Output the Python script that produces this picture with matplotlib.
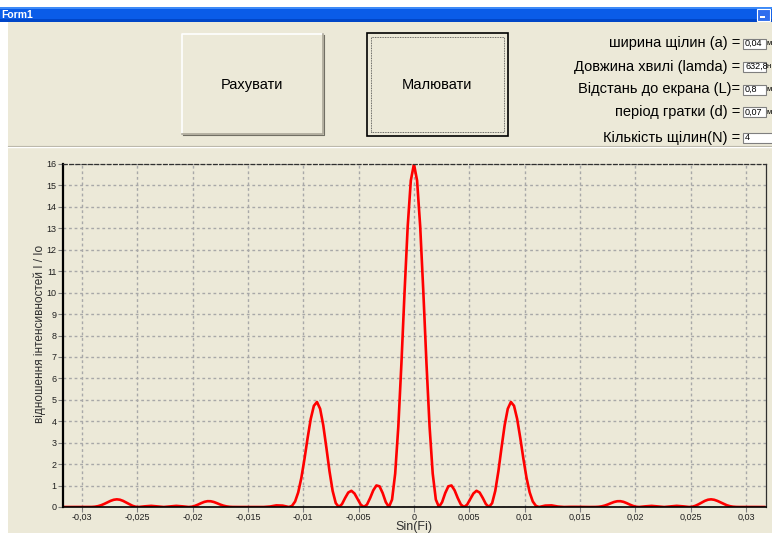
import matplotlib
matplotlib.use("Agg")
import matplotlib.pyplot as plt
from matplotlib.patches import Rectangle
from matplotlib.lines import Line2D

# ============================================================
# DATA
# ============================================================

sin_fi_left = [
    -0.03164, -0.031075, -0.03051, -0.029945,
    -0.02938, -0.029098, -0.028815, -0.028533, -0.02825, -0.027968, -0.027685,
    -0.027403, -0.02712, -0.026838, -0.026555, -0.026273, -0.02599, -0.025708,
    -0.025425, -0.025143, -0.02486,
    -0.024295, -0.02373, -0.023165, -0.0226, -0.022035, -0.02147, -0.020905,
    -0.02034, -0.020058, -0.019775, -0.019493, -0.01921, -0.018928, -0.018645,
    -0.018363, -0.01808, -0.017798, -0.017515, -0.017233, -0.01695, -0.016668,
    -0.016385, -0.016103, -0.01582,
    -0.015255, -0.01469, -0.014125, -0.01356, -0.012995, -0.01243, -0.011865,
    -0.0113, -0.011018, -0.010735, -0.010453, -0.01017, -0.009888, -0.009605,
    -0.009323, -0.00904, -0.008758, -0.008475, -0.008193, -0.00791, -0.007628,
    -0.007345, -0.007063, -0.00678, -0.006498, -0.006215, -0.005933, -0.00565,
    -0.005368, -0.005085, -0.004803, -0.00452, -0.004238, -0.003955, -0.003673,
    -0.00339, -0.003108, -0.002825, -0.002543, -0.00226, -0.001978, -0.001695,
    -0.001413, -0.00113, -0.000848, -0.000565, -0.000283,
]

ratio_left = [
    0.0, 0.0, 0.002, 0.002,
    0.0, 0.003, 0.014, 0.040, 0.084, 0.146, 0.217, 0.286, 0.337, 0.357, 0.339,
    0.285, 0.208, 0.126, 0.057, 0.013, 0.0,
    0.031, 0.053, 0.024, 0.0, 0.024, 0.052, 0.030,
    0.0, 0.013, 0.053, 0.114, 0.182, 0.240, 0.271, 0.268, 0.234, 0.179, 0.118,
    0.066, 0.030, 0.010, 0.002, 0.0, 0.0,
    0.001, 0.007, 0.007, 0.0, 0.022, 0.075, 0.065,
    0.0, 0.051, 0.256, 0.683, 1.359, 2.243, 3.218, 4.107, 4.720,
    4.899, 4.581, 3.816, 2.768, 1.669, 0.752, 0.180, 0.0,
    0.136, 0.423, 0.675, 0.756, 0.629, 0.366, 0.108, 0.0,
    0.116, 0.421, 0.778, 1.005, 0.965, 0.650, 0.225, 0.0,
    0.346, 1.560, 3.741, 6.714, 10.034, 13.082, 15.227,
]

sin_fi_right = [
    0.0, 0.000283, 0.000565, 0.000848, 0.00113, 0.001413, 0.001695, 0.001978,
    0.00226, 0.002543, 0.002825, 0.003108, 0.00339, 0.003673, 0.003955,
    0.004238, 0.00452, 0.004803, 0.005085, 0.005368, 0.00565, 0.005933,
    0.006215, 0.006498, 0.00678, 0.007063, 0.007345, 0.007628, 0.00791,
    0.008193, 0.008475, 0.008758, 0.00904, 0.009323, 0.009605, 0.009888,
    0.01017, 0.010453, 0.010735, 0.011018, 0.0113,
    0.011865, 0.01243, 0.012995, 0.01356, 0.014125, 0.01469, 0.015255,
    0.01582, 0.016103, 0.016385, 0.016668, 0.01695, 0.017233, 0.017515,
    0.017798, 0.01808, 0.018363, 0.018645, 0.018928, 0.01921, 0.019493,
    0.019775, 0.020058, 0.02034,
    0.020905, 0.02147, 0.022035, 0.0226, 0.023165, 0.02373, 0.024295,
    0.02486, 0.025143, 0.025425, 0.025708, 0.02599, 0.026273, 0.026555,
    0.026838, 0.02712, 0.027403, 0.027685, 0.027968, 0.02825, 0.028533,
    0.028815, 0.029098, 0.02938,
    0.029945, 0.03051, 0.031075, 0.03164,
]

ratio_right = [
    16.0, 15.227, 13.082, 10.034, 6.714, 3.741, 1.560, 0.346,
    0.0, 0.225, 0.650, 0.965, 1.005, 0.778, 0.421, 0.116,
    0.0, 0.108, 0.366, 0.629, 0.756, 0.675, 0.423, 0.136,
    0.0, 0.180, 0.752, 1.669, 2.768, 3.816, 4.581, 4.899,
    4.720, 4.107, 3.218, 2.243, 1.359, 0.683, 0.256, 0.051, 0.0,
    0.065, 0.075, 0.022, 0.0, 0.007, 0.007, 0.001,
    0.0, 0.0, 0.002, 0.010, 0.030, 0.066, 0.118, 0.179, 0.234, 0.268, 0.271,
    0.240, 0.182, 0.114, 0.053, 0.013, 0.0,
    0.030, 0.052, 0.024, 0.0, 0.024, 0.053, 0.031,
    0.0, 0.013, 0.057, 0.126, 0.208, 0.285, 0.339, 0.357, 0.337, 0.286,
    0.217, 0.146, 0.084, 0.040, 0.014, 0.003, 0.0,
    0.002, 0.002, 0.0, 0.0,
]

x_ticks = [-0.03, -0.025, -0.02, -0.015, -0.01, -0.005, 0,
           0.005, 0.01, 0.015, 0.02, 0.025, 0.03]
x_tick_labels = ["-0,03", "-0,025", "-0,02", "-0,015", "-0,01", "-0,005", "0",
                 "0,005", "0,01", "0,015", "0,02", "0,025", "0,03"]
y_ticks = list(range(0, 17))

param_labels = ["ширина щілин (а) =", "Довжина хвилі (lamda) =",
                "Відстань до екрана (L)=", "період гратки (d) =",
                "Кількість щілин(N) ="]
param_values = ["0,04", "632,8", "0,8", "0,07", "4"]
param_units = ["м", "н", "м", "м", ""]

sin_fi = sin_fi_left + sin_fi_right
ratio = ratio_left + ratio_right

# ============================================================
# FIGURE / FORM
# ============================================================

plt.rcParams["font.family"] = ["Liberation Sans", "DejaVu Sans"]

W, H = 772, 533
FORM = "#ECE9D8"

fig = plt.figure(figsize=(W / 100, H / 100), dpi=100, facecolor=FORM)


def rect(x0, y0, x1, y1, **kw):
    r = Rectangle((x0 / W, 1 - y1 / H), (x1 - x0) / W, (y1 - y0) / H,
                  transform=fig.transFigure, **kw)
    fig.add_artist(r)
    return r


def line(xs, ys, **kw):
    fig.add_artist(Line2D([v / W for v in xs], [1 - v / H for v in ys],
                          transform=fig.transFigure, **kw))


def text(x, y, s, **kw):
    fig.text(x / W, 1 - y / H, s, transform=fig.transFigure, **kw)


# white margins of the screenshot
rect(0, 0, W, 7, facecolor="white", edgecolor="none", zorder=-5)
rect(0, 22, 8, H, facecolor="white", edgecolor="none", zorder=-5)

# title bar
rect(0, 7, W, 22, facecolor="#0A5CE8", edgecolor="none", zorder=1)
rect(0, 7, W, 9, facecolor="#3D8AF7", edgecolor="none", zorder=1)
rect(0, 19, W, 22, facecolor="#0046C8", edgecolor="none", zorder=1)
text(1, 15, "Form1", color="white", fontsize=7.5, fontweight="bold",
     va="center", ha="left", zorder=2)
rect(757, 9, 770, 21, facecolor="#2F6EEE", edgecolor="white", linewidth=0.8,
     zorder=2)
rect(760, 16, 765, 18, facecolor="white", edgecolor="none", zorder=3)

# separator above chart panel
line([8, W], [146, 146], color="#ACA899", linewidth=0.8, zorder=1)
line([8, W], [147.5, 147.5], color="white", linewidth=1, zorder=1)

# button "Рахувати"
rect(182, 34, 323, 134, facecolor=FORM, edgecolor="none", zorder=1)
line([182, 182, 323], [134, 34, 34], color="white", linewidth=1.2, zorder=2)
line([182, 323, 323], [134, 134, 34], color="#ACA899", linewidth=1.2, zorder=2)
line([183, 324, 324], [135, 135, 35], color="#716F64", linewidth=0.8, zorder=2)
text(252, 85, "Рахувати", fontsize=10.5, ha="center", va="center",
     color="black", zorder=3)

# button "Малювати" (focused)
rect(367, 33, 508, 136, facecolor=FORM, edgecolor="black", linewidth=1.2,
     zorder=1)
rect(371, 37, 504, 132, facecolor="none", edgecolor="#404040",
     linewidth=0.6, linestyle=(0, (1, 1)), zorder=2)
text(437, 85, "Малювати", fontsize=10.5, ha="center", va="center",
     color="black", zorder=3)

# parameter labels and edit boxes
label_rows = [43.5, 66.5, 89.5, 112, 138]
for i, row in enumerate(label_rows):
    text(740, row, param_labels[i], fontsize=10.5, ha="right", va="center",
         color="black", zorder=2)
    right_edge = 766 if i < 4 else 773
    rect(743, row - 5, right_edge, row + 5, facecolor="white",
         edgecolor="#7F7F7F", linewidth=0.8, zorder=2)
    text(745, row, param_values[i], fontsize=6.5, ha="left", va="center",
         color="black", zorder=3)
    if param_units[i]:
        text(766.5, row, param_units[i], fontsize=5.5, ha="left",
             va="center", color="black", zorder=3)

# ============================================================
# CHART
# ============================================================

ax = fig.add_axes([63 / W, 1 - 507 / H, 703 / W, 343 / H])
ax.set_facecolor(FORM)

ax.plot(sin_fi, ratio, color="#FF0000", linewidth=1.9,
        solid_joinstyle="round", zorder=3)

ax.set_xlim(-0.0317, 0.0318)
ax.set_ylim(0, 16)
ax.set_xticks(x_ticks)
ax.set_xticklabels(x_tick_labels)
ax.set_yticks(y_ticks)

ax.grid(True, color="#A8A8A8", linestyle=(0, (2, 2)), linewidth=1, zorder=1)
ax.set_axisbelow(True)

ax.tick_params(axis="both", labelsize=6.5, length=3.5, width=0.8,
               color="#808080", labelcolor="#202020", pad=1)

ax.spines["left"].set_color("black")
ax.spines["left"].set_linewidth(1.6)
ax.spines["bottom"].set_color("black")
ax.spines["bottom"].set_linestyle((0, (2, 1)))
ax.spines["bottom"].set_linewidth(1.2)
ax.spines["top"].set_color("#303030")
ax.spines["top"].set_linestyle((0, (3, 2)))
ax.spines["top"].set_linewidth(0.9)
ax.spines["right"].set_color("#303030")
ax.spines["right"].set_linewidth(0.9)
for sp in ax.spines.values():
    sp.set_zorder(4)

text(40, 334, "відношення інтенсивностей I / Io", fontsize=8.5,
     rotation=90, ha="center", va="center", color="#303030")
text(414, 527, "Sin(Fi)", fontsize=9, ha="center", va="center",
     color="#303030")

plt.savefig("out.png", dpi=100, facecolor=fig.get_facecolor())
